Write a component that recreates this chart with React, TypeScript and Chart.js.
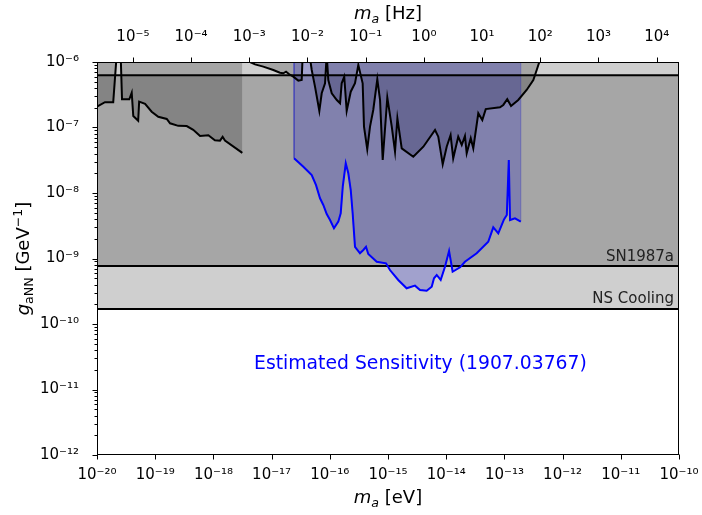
import React, { useEffect, useRef } from "react";
import { Chart, registerables } from "chart.js";

Chart.register(...registerables);

// Conversion between axion mass in eV and frequency in Hz
const EV_TO_HZ = 2.418e14;

const X_MIN = 1e-20;
const X_MAX = 1e-10;
const Y_MIN = 1e-12;
const Y_MAX = 1e-6;
// values above the top of the plot, used where limit curves leave the frame
const OFF_TOP = 1.3e-6;

const X_TICK_EXPONENTS = [-20, -19, -18, -17, -16, -15, -14, -13, -12, -11, -10];
const HZ_TICK_EXPONENTS = [-5, -4, -3, -2, -1, 0, 1, 2, 3, 4];
const Y_TICK_EXPONENTS = [-12, -11, -10, -9, -8, -7, -6];

// Astrophysical bounds on g_aNN [GeV^-1]
const SN1987A_BOUND = 7.7e-10;
const NS_COOLING_BOUND = 1.7e-10;
const UPPER_BAND_BOUND = 6.3e-7;

// Existing limit at ultralight masses: [m_a (eV), g_aNN]
const lowMassLimit: [number, number][] = [
  [1.0e-20, 2.08e-7], [1.37e-20, 2.43e-7], [1.9e-20, 2.43e-7], [2.18e-20, OFF_TOP],
  [2.55e-20, OFF_TOP], [2.69e-20, 2.7e-7], [3.59e-20, 2.7e-7], [3.95e-20, 3.4e-7],
  [4.2e-20, 1.5e-7], [5.1e-20, 1.27e-7], [5.3e-20, 2.48e-7], [6.7e-20, 2.29e-7],
  [8.7e-20, 1.74e-7], [1.13e-19, 1.46e-7], [1.58e-19, 1.35e-7], [1.8e-19, 1.16e-7],
  [2.49e-19, 1.06e-7], [3.48e-19, 1.05e-7], [4.5e-19, 9.2e-8], [5.9e-19, 7.4e-8],
  [8.2e-19, 7.6e-8], [1.06e-18, 6.4e-8], [1.3e-18, 6.3e-8], [1.44e-18, 7.2e-8],
  [1.58e-18, 6.3e-8], [3.14e-18, 4.1e-8],
];

// Existing limit at intermediate masses: [m_a (eV), g_aNN]
const midMassLimit: [number, number][] = [
  [4.26e-18, 1.0e-6], [5.19e-18, 9.2e-7], [7.2e-18, 8.5e-7], [1.07e-17, 7.55e-7],
  [1.39e-17, 6.87e-7], [1.59e-17, 6.72e-7], [1.77e-17, 7.12e-7], [2.01e-17, 6.49e-7],
  [2.36e-17, 5.97e-7], [2.88e-17, 5.19e-7], [3.29e-17, 5.31e-7], [3.42e-17, OFF_TOP],
  [4.48e-17, OFF_TOP], [4.89e-17, 7.55e-7], [5.57e-17, 4.2e-7], [6.61e-17, 1.79e-7],
  [7.26e-17, 3.33e-7], [8.28e-17, 4.73e-7], [8.85e-17, OFF_TOP], [9.42e-17, 5.31e-7],
  [1.08e-16, 3.33e-7], [1.32e-16, 2.63e-7], [1.5e-16, 2.34e-7], [1.6e-16, 4.73e-7],
  [1.77e-16, 5.97e-7], [1.95e-16, 1.79e-7], [2.29e-16, 3.52e-7], [2.71e-16, 4.73e-7],
  [3.09e-16, 9.0e-7], [3.67e-16, 4.73e-7], [3.87e-16, 1.03e-7], [4.4e-16, 4.65e-8],
  [4.91e-16, 1.03e-7], [5.58e-16, 1.85e-7], [6.55e-16, 5.45e-7], [7.3e-16, 2.63e-7],
  [8.11e-16, 3.19e-8], [9.73e-16, 2.85e-7], [1.16e-15, 1.03e-7], [1.32e-15, 4.28e-8],
  [1.45e-15, 1.38e-7], [1.72e-15, 4.81e-8], [2.72e-15, 3.58e-8], [4.05e-15, 5.09e-8],
  [6.43e-15, 9.16e-8], [7.31e-15, 7.24e-8], [8.71e-15, 2.74e-8], [1.02e-14, 5.09e-8],
  [1.19e-14, 7.67e-8], [1.32e-14, 3.39e-8], [1.61e-14, 7.24e-8], [1.85e-14, 5.41e-8],
  [2.1e-14, 7.41e-8], [2.25e-14, 4.04e-8], [2.64e-14, 6.84e-8], [2.92e-14, 4.81e-8],
  [3.56e-14, 1.65e-7], [4.17e-14, 1.3e-7], [4.78e-14, 1.91e-7], [8.39e-14, 2.03e-7],
  [9.57e-14, 2.21e-7], [1.12e-13, 2.7e-7], [1.3e-13, 2.13e-7], [1.73e-13, 2.63e-7],
  [2.41e-13, 3.74e-7], [3.14e-13, 5.31e-7], [3.59e-13, 7.55e-7], [3.98e-13, 1.0e-6],
];

// Estimated sensitivity (arXiv:1907.03767): [m_a (eV), g_aNN]
const estimatedSensitivity: [number, number][] = [
  [2.43e-17, 3.39e-8], [3.51e-17, 2.52e-8], [4.89e-17, 1.88e-8], [5.8e-17, 1.32e-8],
  [6.79e-17, 8.3e-9], [7.73e-17, 6.56e-9], [8.85e-17, 4.78e-9], [1.01e-16, 3.87e-9],
  [1.18e-16, 2.89e-9], [1.4e-16, 3.65e-9], [1.54e-16, 4.9e-9], [1.67e-16, 1.25e-8],
  [1.88e-16, 2.84e-8], [2.08e-16, 2.0e-8], [2.29e-16, 1.11e-8], [2.47e-16, 4.9e-9],
  [2.71e-16, 1.51e-9], [3.3e-16, 1.2e-9], [3.77e-16, 1.35e-9], [4.19e-16, 1.51e-9],
  [4.58e-16, 1.17e-9], [6.4e-16, 8.93e-10], [9.25e-16, 8.45e-10], [1.08e-15, 6.67e-10],
  [1.5e-15, 4.7e-10], [2.09e-15, 3.51e-10], [2.91e-15, 3.85e-10], [3.55e-15, 3.31e-10],
  [4.62e-15, 3.22e-10], [5.64e-15, 3.71e-10], [6.17e-15, 4.99e-10], [6.87e-15, 5.6e-10],
  [8.04e-15, 4.7e-10], [9.53e-15, 7.5e-10], [1.12e-14, 1.3e-9], [1.29e-14, 6.28e-10],
  [1.73e-14, 7.34e-10], [2.1e-14, 8.93e-10], [3.34e-14, 1.2e-9], [5.28e-14, 1.8e-9],
  [6.44e-14, 2.99e-9], [7.85e-14, 2.42e-9], [9.84e-14, 3.96e-9], [1.1e-13, 4.61e-9],
  [1.19e-13, 3.19e-8], [1.25e-13, 3.87e-9], [1.52e-13, 4.11e-9], [1.91e-13, 3.65e-9],
];

const SENSITIVITY_TEXT = "Estimated Sensitivity (1907.03767)";
const SENSITIVITY_TEXT_POS: [number, number] = [5e-18, 2.05e-11];

const FONT = "DejaVu Sans";
const LIGHT_GREY = "rgb(207,207,207)";
const MID_GREY = "rgb(166,166,166)";
const SHADE = "rgba(0,0,0,0.2)";
const BLUE_SHADE = "rgba(0,0,200,0.22)";

const SUP: Record<string, string> = {
  "-": "\u207B", "0": "\u2070", "1": "\u00B9", "2": "\u00B2", "3": "\u00B3",
  "4": "\u2074", "5": "\u2075", "6": "\u2076", "7": "\u2077", "8": "\u2078", "9": "\u2079",
};
const powerLabel = (v: number) => {
  const e = Math.round(Math.log10(v));
  return "10" + String(e).split("").map((c) => SUP[c]).join("");
};

const pts = (arr: [number, number][]) => arr.map(([x, y]) => ({ x, y }));
const hline = (y: number) => [{ x: X_MIN, y }, { x: X_MAX, y }];

type Run = { text: string; font: string; dy?: number };
function drawRuns(ctx: CanvasRenderingContext2D, runs: Run[], x: number, y: number, align: "left" | "center" | "right") {
  const widths = runs.map((r) => {
    ctx.font = r.font;
    return ctx.measureText(r.text).width;
  });
  const total = widths.reduce((a, b) => a + b, 0);
  let cx = align === "center" ? x - total / 2 : align === "right" ? x - total : x;
  ctx.textAlign = "left";
  ctx.textBaseline = "alphabetic";
  runs.forEach((r, i) => {
    ctx.font = r.font;
    ctx.fillText(r.text, cx, y + (r.dy || 0));
    cx += widths[i];
  });
}

const decorations = {
  id: "decorations",
  afterDraw(chart: any) {
    const { ctx, chartArea: a, scales } = chart;
    const sx = scales.x, sx2 = scales.x2, sy = scales.y;
    ctx.save();

    // frame
    ctx.strokeStyle = "#000";
    ctx.lineWidth = 1;
    const L = Math.round(a.left) + 0.5, R = Math.round(a.right) - 0.5;
    const T = Math.round(a.top) + 0.5, B = Math.round(a.bottom) - 0.5;
    ctx.strokeRect(L, T, R - L, B - T);

    // tick marks
    ctx.beginPath();
    X_TICK_EXPONENTS.forEach((e) => {
      const px = Math.round(sx.getPixelForValue(Math.pow(10, e))) + 0.5;
      ctx.moveTo(px, B);
      ctx.lineTo(px, B + 5);
    });
    HZ_TICK_EXPONENTS.forEach((e) => {
      const px = Math.round(sx2.getPixelForValue(Math.pow(10, e))) + 0.5;
      ctx.moveTo(px, T);
      ctx.lineTo(px, T - 5);
    });
    Y_TICK_EXPONENTS.forEach((e, i) => {
      const py = Math.round(sy.getPixelForValue(Math.pow(10, e))) + 0.5;
      ctx.moveTo(L, py);
      ctx.lineTo(L - 5, py);
      if (i < Y_TICK_EXPONENTS.length - 1) {
        for (let k = 2; k <= 9; k++) {
          const pm = Math.round(sy.getPixelForValue(k * Math.pow(10, e))) + 0.5;
          ctx.moveTo(L, pm);
          ctx.lineTo(L - 3, pm);
        }
      }
    });
    ctx.stroke();

    // band labels
    ctx.fillStyle = "#222";
    ctx.font = `15px ${FONT}`;
    ctx.textAlign = "right";
    ctx.textBaseline = "alphabetic";
    ctx.fillText("SN1987a", a.right - 5, sy.getPixelForValue(SN1987A_BOUND) - 5);
    ctx.fillText("NS Cooling", a.right - 5, sy.getPixelForValue(NS_COOLING_BOUND) - 6);

    // sensitivity label
    ctx.fillStyle = "#0000ff";
    ctx.font = `18.8px ${FONT}`;
    ctx.textAlign = "left";
    ctx.fillText(SENSITIVITY_TEXT, sx.getPixelForValue(SENSITIVITY_TEXT_POS[0]), sy.getPixelForValue(SENSITIVITY_TEXT_POS[1]));

    // axis titles
    ctx.fillStyle = "#000";
    const cx = (a.left + a.right) / 2;
    const big = `18px ${FONT}`;
    const bigIt = `italic 18px ${FONT}`;
    const smallIt = `italic 12.6px ${FONT}`;
    const small = `12.6px ${FONT}`;
    drawRuns(ctx, [
      { text: "m", font: bigIt },
      { text: "a", font: smallIt, dy: 4 },
      { text: " [eV]", font: big },
    ], cx, 503, "center");
    drawRuns(ctx, [
      { text: "m", font: bigIt },
      { text: "a", font: smallIt, dy: 4 },
      { text: " [Hz]", font: big },
    ], cx, 19, "center");

    ctx.save();
    ctx.translate(29, (a.top + a.bottom) / 2);
    ctx.rotate(-Math.PI / 2);
    drawRuns(ctx, [
      { text: "g", font: bigIt },
      { text: "aNN", font: small, dy: 4 },
      { text: " [GeV", font: big },
      { text: "\u22121", font: small, dy: -7 },
      { text: "]", font: big },
    ], 0, 0, "center");
    ctx.restore();

    ctx.restore();
  },
};

export default function App() {
  const canvasRef = useRef<HTMLCanvasElement | null>(null);

  useEffect(() => {
    if (!canvasRef.current) return;

    const blueRegion = [
      { x: estimatedSensitivity[0][0], y: Y_MAX },
      ...pts(estimatedSensitivity),
      { x: estimatedSensitivity[estimatedSensitivity.length - 1][0], y: Y_MAX },
    ];

    const base = { pointRadius: 0, tension: 0, clip: 0 as any };
    const noPad = (s: any) => {
      s.paddingLeft = 0;
      s.paddingRight = 0;
    };

    const chart = new Chart(canvasRef.current, {
      type: "line",
      data: {
        datasets: [
          // lines, topmost first
          { ...base, data: pts(estimatedSensitivity), borderColor: "#0000ff", borderWidth: 2, fill: false, order: 0 },
          { ...base, data: pts(lowMassLimit), borderColor: "#000", borderWidth: 2, fill: false, order: 1 },
          { ...base, data: pts(midMassLimit), borderColor: "#000", borderWidth: 2, fill: false, order: 1 },
          { ...base, data: hline(UPPER_BAND_BOUND), borderColor: "#000", borderWidth: 2, fill: false, order: 2 },
          { ...base, data: hline(SN1987A_BOUND), borderColor: "#000", borderWidth: 2, fill: false, order: 2 },
          { ...base, data: hline(NS_COOLING_BOUND), borderColor: "#000", borderWidth: 2, fill: false, order: 2 },
          // shaded regions
          { ...base, data: blueRegion, borderColor: "rgba(0,0,200,0.3)", borderWidth: 1, backgroundColor: BLUE_SHADE, fill: "end", order: 5 },
          { ...base, data: pts(midMassLimit), borderWidth: 0, borderColor: "rgba(0,0,0,0)", backgroundColor: SHADE, fill: "end", order: 6 },
          { ...base, data: pts(lowMassLimit), borderWidth: 0, borderColor: "rgba(0,0,0,0)", backgroundColor: SHADE, fill: "end", order: 6 },
          { ...base, data: hline(SN1987A_BOUND), borderWidth: 0, borderColor: "rgba(0,0,0,0)", backgroundColor: MID_GREY, fill: { value: UPPER_BAND_BOUND }, order: 8 },
          { ...base, data: hline(NS_COOLING_BOUND), borderWidth: 0, borderColor: "rgba(0,0,0,0)", backgroundColor: LIGHT_GREY, fill: "end", order: 9 },
        ] as any,
      },
      options: {
        animation: false,
        responsive: false,
        devicePixelRatio: 1,
        layout: { padding: { left: 0, right: 23, top: 0, bottom: 0 } },
        plugins: { legend: { display: false }, tooltip: { enabled: false } },
        scales: {
          x: {
            type: "logarithmic",
            position: "bottom",
            min: X_MIN,
            max: X_MAX,
            grid: { display: false },
            border: { display: false },
            afterBuildTicks: (s: any) => {
              s.ticks = X_TICK_EXPONENTS.map((e) => ({ value: Math.pow(10, e) }));
            },
            afterFit: (s: any) => { s.height = 60; noPad(s); },
            ticks: {
              autoSkip: false, maxRotation: 0, padding: 3, color: "#000",
              font: { family: FONT, size: 15 },
              callback: (v: any) => powerLabel(Number(v)),
            },
          },
          x2: {
            type: "logarithmic",
            position: "top",
            min: X_MIN * EV_TO_HZ,
            max: X_MAX * EV_TO_HZ,
            grid: { display: false },
            border: { display: false },
            afterBuildTicks: (s: any) => {
              s.ticks = HZ_TICK_EXPONENTS.map((e) => ({ value: Math.pow(10, e) }));
            },
            afterFit: (s: any) => { s.height = 62; noPad(s); },
            ticks: {
              autoSkip: false, maxRotation: 0, padding: 8, color: "#000",
              font: { family: FONT, size: 15 },
              callback: (v: any) => powerLabel(Number(v)),
            },
          },
          y: {
            type: "logarithmic",
            position: "left",
            min: Y_MIN,
            max: Y_MAX,
            grid: { display: false },
            border: { display: false },
            afterBuildTicks: (s: any) => {
              s.ticks = Y_TICK_EXPONENTS.map((e) => ({ value: Math.pow(10, e) }));
            },
            afterFit: (s: any) => { s.width = 97; s.paddingTop = 0; s.paddingBottom = 0; },
            ticks: {
              autoSkip: false, padding: 10, color: "#000",
              font: { family: FONT, size: 15 },
              callback: (v: any) => powerLabel(Number(v)),
            },
          },
        },
      } as any,
      plugins: [decorations],
    });

    return () => chart.destroy();
  }, []);

  return (
    <div style={{ position: "absolute", left: 0, top: 0, width: 702, height: 515, background: "#fff" }}>
      <canvas ref={canvasRef} width={702} height={515} />
    </div>
  );
}
